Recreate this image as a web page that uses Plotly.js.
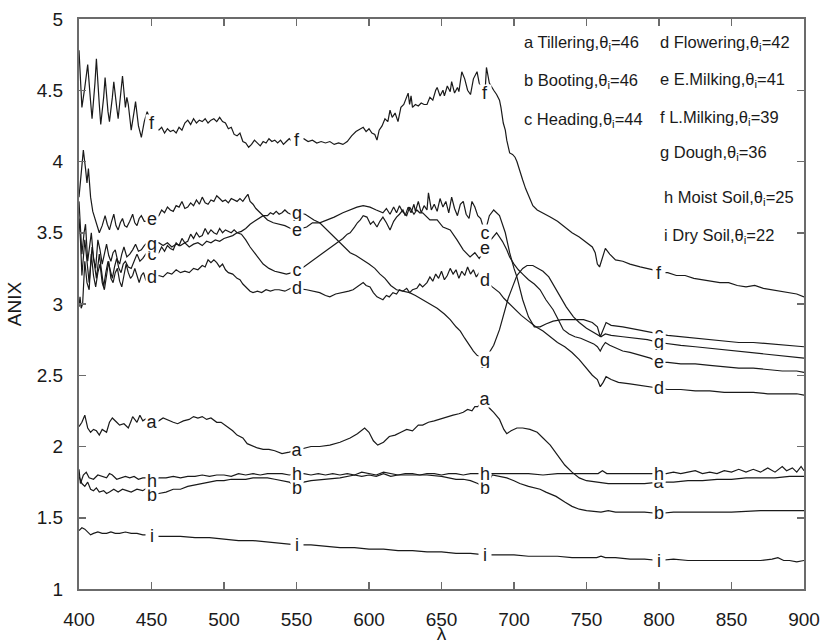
<!DOCTYPE html>
<html>
<head>
<meta charset="utf-8">
<script src="https://cdn.plot.ly/plotly-3.0.1.min.js"></script>
<style>
  html, body { margin: 0; padding: 0; background: #fff; }
  #chart { width: 821px; height: 644px; }
</style>
</head>
<body>
<div id="chart"></div>
<script>
// ANIX spectra of a crop through its growth stages and two soils.

// a – Tillering
const wl_a = [400,402,404,406,408,410,412,414,416,419,421,423,426,428,431,434,436,437,440,442,444,447,450,455,458,462,465,468,472,476,479,482,485,488,491,495,498,502,506,509,513,516,520,523,527,531,535,540,545,550,555,560,566,573,580,587,592,597,600,603,606,610,614,618,622,626,630,634,637,641,645,648,651,655,658,662,665,668,671,673,675,677,680,683,686,690,693,695,698,702,706,711,716,720,725,730,735,740,745,750,757,765,773,780,790,800,810,820,830,840,850,860,870,880,890,900];
const anix_a = [2.14,2.17,2.22,2.13,2.10,2.12,2.11,2.08,2.12,2.10,2.17,2.20,2.17,2.15,2.16,2.13,2.18,2.21,2.17,2.22,2.18,2.20,2.17,2.18,2.20,2.18,2.17,2.16,2.18,2.19,2.21,2.20,2.21,2.19,2.20,2.17,2.17,2.14,2.11,2.08,2.06,2.02,2.00,1.99,1.98,1.98,1.97,1.95,1.96,1.975,1.99,2.00,2.00,2.01,2.03,2.06,2.09,2.13,2.10,2.04,2.01,2.03,2.07,2.08,2.10,2.12,2.11,2.15,2.15,2.17,2.18,2.19,2.20,2.21,2.22,2.23,2.24,2.26,2.25,2.28,2.28,2.30,2.33,2.27,2.24,2.19,2.12,2.09,2.11,2.13,2.13,2.12,2.10,2.06,2.01,1.94,1.87,1.82,1.78,1.76,1.75,1.74,1.74,1.74,1.74,1.75,1.75,1.76,1.76,1.77,1.77,1.78,1.78,1.78,1.79,1.79];

// b – Booting
const wl_b = [400,402,404,406,408,410,412,414,417,419,421,424,427,430,433,436,440,444,447,450,455,460,465,470,475,480,485,490,495,500,505,510,515,520,525,530,535,540,545,550,555,560,570,580,590,595,600,605,610,615,620,630,640,650,655,660,665,670,675,680,685,690,695,700,704,710,718,722,729,735,740,745,750,760,765,770,780,790,800,810,830,850,870,890,900];
const anix_b = [1.79,1.74,1.72,1.75,1.70,1.69,1.71,1.68,1.69,1.67,1.68,1.70,1.68,1.70,1.69,1.68,1.70,1.69,1.71,1.66,1.67,1.68,1.70,1.70,1.72,1.73,1.74,1.75,1.76,1.76,1.77,1.77,1.77,1.78,1.78,1.78,1.77,1.76,1.75,1.71,1.75,1.76,1.77,1.78,1.80,1.79,1.80,1.79,1.81,1.79,1.80,1.80,1.80,1.79,1.78,1.77,1.77,1.76,1.74,1.71,1.80,1.79,1.78,1.76,1.74,1.72,1.70,1.68,1.65,1.61,1.58,1.56,1.55,1.54,1.55,1.54,1.54,1.54,1.53,1.54,1.54,1.54,1.55,1.55,1.55];

// c – Heading
const wl_c = [400,401,402,404,405.5,407,409,410.5,412,414,415.5,417,418.5,420,421.5,423,424.5,426,427.5,429,430.5,432,434,436,438,440,442,444,446,447,450,455,457,459,461,463,465,467,469,471,473,475,477,479,481,483,485,487,489,491,493,495,497,499,501,503,505,507,509,512,515,518,521,524,527,531,535,539,543,547,550,555,559,563,567,571,575,578,582,585,587,590,592,594,596,598.6,601,603,605.5,607.5,609.6,612,614.5,617,619,621,623.4,625,627,629,631,632,634,636,638,640,641,643,645,647,649,651,653,655,657,659,661,663,665,667,669,671,673,675,677,680,683,686,690,694,697,700,702,706,710,714,718,722,727,733,740,748,754,757.5,759.5,761.5,763.5,767,775,785,794,800,806,815,825,835,845,855,865,875,885,895,900];
const anix_c = [3.60,3.45,3.20,3.45,3.30,3.15,3.40,3.28,3.18,3.35,3.22,3.12,3.22,3.30,3.24,3.18,3.26,3.32,3.25,3.22,3.28,3.30,3.26,3.25,3.30,3.35,3.30,3.32,3.35,3.36,3.35,3.36,3.40,3.37,3.41,3.39,3.38,3.43,3.41,3.46,3.43,3.44,3.49,3.46,3.50,3.47,3.48,3.53,3.49,3.52,3.50,3.49,3.53,3.50,3.52,3.51,3.50,3.52,3.50,3.49,3.45,3.40,3.36,3.32,3.28,3.25,3.23,3.22,3.21,3.22,3.24,3.26,3.29,3.32,3.35,3.38,3.41,3.43,3.46,3.49,3.50,3.54,3.57,3.59,3.62,3.61,3.56,3.58,3.54,3.58,3.61,3.57,3.52,3.58,3.61,3.63,3.66,3.62,3.68,3.64,3.70,3.65,3.72,3.64,3.69,3.66,3.78,3.66,3.70,3.65,3.74,3.68,3.72,3.64,3.75,3.67,3.62,3.70,3.72,3.63,3.60,3.72,3.68,3.62,3.60,3.50,3.62,3.66,3.62,3.50,3.36,3.25,3.19,3.03,2.91,2.84,2.84,2.86,2.88,2.89,2.89,2.89,2.87,2.84,2.77,2.82,2.87,2.85,2.84,2.82,2.80,2.79,2.78,2.77,2.76,2.75,2.74,2.73,2.73,2.72,2.71,2.70,2.70];

// d – Flowering
const wl_d = [400,400.7,401.5,402.5,404,405.5,407,408.5,410,411.5,413,414.5,416,417.5,419,420.5,422,423.5,425,426.5,428,429.5,431,432.5,434,435.5,437,438.5,440,441.5,443,444.5,446,447,450,455,458,461,464,467,470,473,476,479,482,485,487,489,491,493,495,497,499,501,503,506,509,511,513,516,518,520,523,526,529,532,535,538,542,546,550,557,561,566,570,573,577,582,586,589,593,596,598,600.7,603,605.5,607.5,609.6,612,614,616.5,619,621,623.4,626,628,630,633,635,637,640,642,644,646,648,650,652,654,656,658,660,662,664,666,668,670,672,674,676,680,685,690,693,697,701,705,710,715,720,725,730,735,740,745,750,754,757.5,759.5,761.5,763.5,767,772,780,787,795,800,806,815,825,835,845,855,865,875,885,895,900];
const anix_d = [2.98,3.05,2.97,3.00,3.30,3.15,3.10,3.35,3.20,3.12,3.22,3.28,3.15,3.10,3.20,3.30,3.18,3.15,3.22,3.25,3.16,3.12,3.20,3.28,3.22,3.18,3.20,3.25,3.20,3.15,3.20,3.22,3.17,3.18,3.19,3.20,3.19,3.22,3.21,3.24,3.22,3.23,3.22,3.25,3.24,3.27,3.26,3.31,3.29,3.31,3.29,3.26,3.28,3.24,3.22,3.21,3.18,3.17,3.14,3.11,3.09,3.08,3.09,3.08,3.10,3.09,3.10,3.10,3.09,3.11,3.11,3.10,3.09,3.08,3.06,3.05,3.07,3.08,3.09,3.10,3.13,3.15,3.13,3.12,3.08,3.05,3.04,3.03,3.06,3.05,3.08,3.07,3.10,3.09,3.11,3.08,3.10,3.11,3.14,3.12,3.15,3.19,3.16,3.21,3.18,3.23,3.17,3.20,3.25,3.21,3.24,3.18,3.23,3.20,3.26,3.21,3.24,3.19,3.22,3.17,3.12,3.08,3.04,3.00,2.96,2.92,2.88,2.84,2.81,2.77,2.73,2.70,2.66,2.61,2.55,2.50,2.47,2.42,2.45,2.49,2.47,2.45,2.44,2.43,2.42,2.41,2.40,2.40,2.39,2.39,2.38,2.38,2.38,2.37,2.37,2.37,2.36];

// e – E.Milking
const wl_e = [400,401.5,403,404.5,405.5,406.5,408,409.5,411,412.5,414,416,418,419.5,421,422.5,424,425.5,427,428.5,430,431.5,433,435,437,438.5,440,441.5,443,445,447,450,455,457,459,461,463,465,467,469,471,473,475,477,479,481,483,485,487,489,491,493,495,497,499,501,503,505,507,509,511,513,515,516.5,518,520,522,524,527,530,534,538,542,546,550,557,561,566,571,576,582,587,591.7,596,600.7,605,609.6,612,614.5,617,619,621,623,626,628,631,633,635,637,642,647,651,656,660.7,665,669.7,673,676,680,684,688,692,695,697,700,703,706,710,714,718,722,727,731,734,738,742,746,750,755,757.5,759.5,761,763,766,770,775,780,787,794,800,806,815,825,835,845,855,865,875,885,895,900];
const anix_e = [3.75,3.90,4.08,3.95,3.85,3.95,3.75,3.65,3.60,3.55,3.50,3.55,3.62,3.56,3.52,3.58,3.63,3.55,3.52,3.57,3.60,3.55,3.54,3.58,3.63,3.57,3.55,3.60,3.62,3.58,3.58,3.60,3.62,3.66,3.64,3.68,3.66,3.65,3.69,3.68,3.72,3.67,3.68,3.71,3.69,3.73,3.70,3.75,3.71,3.70,3.73,3.72,3.76,3.74,3.72,3.73,3.71,3.74,3.73,3.72,3.74,3.72,3.75,3.77,3.72,3.70,3.67,3.65,3.62,3.59,3.57,3.56,3.55,3.53,3.52,3.54,3.57,3.57,3.59,3.61,3.64,3.66,3.68,3.69,3.68,3.66,3.64,3.67,3.63,3.68,3.64,3.69,3.65,3.62,3.68,3.63,3.66,3.64,3.64,3.59,3.59,3.54,3.52,3.45,3.38,3.33,3.36,3.32,3.39,3.45,3.50,3.44,3.38,3.33,3.28,3.24,3.21,3.17,3.14,3.10,3.03,2.96,2.88,2.82,2.79,2.77,2.76,2.74,2.72,2.70,2.67,2.70,2.73,2.71,2.69,2.67,2.66,2.64,2.62,2.59,2.59,2.58,2.58,2.57,2.56,2.55,2.55,2.54,2.53,2.53,2.52];

// f – L.Milking
const wl_f = [400,401,402,404,406,408,409,411,412,414,415,417,418,420,421,423,424,426,427,429,430,432,433,434,436,438,439,441,443,445,447,450,455,457,459,461,463,465,467,469,471,473,475,477,479,481,483,485,487,489,491,493,495,497,499,501,503,505,507,509,511,513,515,517,519,521,523,525,527,529,531,533,535,537,539,541,543,545,547,550,555,558,561,564,567,570,573,576,579,582,585,588,591,594,596,598,600,602,604,605.5,607,609,611,613,614.5,616,618,620,622,624,626,627,628,629,630,632,634,636,638,640,642,644,646,647,649,651,652,654,656,657,659,661,662,664,666,668,670,672,674.5,676,678,680,681,683,686,688,690,691,692.6,694,695,697,699,700.7,702,704,706,708,710,713,716,718,722,725,730,735,740,745,750,754,756,757.5,759,761,763,766,770,775,780,787,791,796,800,806,812,818,824,830,836,842,848,854,860,866,872,878,884,890,895,900];
const anix_f = [4.78,4.55,4.38,4.52,4.68,4.42,4.30,4.55,4.72,4.40,4.26,4.45,4.59,4.35,4.28,4.45,4.56,4.38,4.30,4.50,4.60,4.38,4.45,4.40,4.22,4.35,4.42,4.25,4.17,4.28,4.35,4.27,4.22,4.24,4.20,4.23,4.21,4.22,4.20,4.24,4.22,4.27,4.29,4.26,4.30,4.27,4.29,4.28,4.30,4.27,4.29,4.30,4.28,4.31,4.28,4.27,4.23,4.24,4.19,4.18,4.20,4.14,4.13,4.10,4.12,4.15,4.13,4.11,4.14,4.13,4.16,4.14,4.15,4.13,4.15,4.12,4.14,4.16,4.14,4.15,4.16,4.14,4.15,4.13,4.14,4.13,4.14,4.12,4.13,4.12,4.14,4.18,4.21,4.23,4.24,4.21,4.23,4.20,4.19,4.15,4.22,4.25,4.30,4.28,4.36,4.31,4.34,4.28,4.38,4.40,4.45,4.48,4.40,4.46,4.38,4.40,4.39,4.41,4.40,4.40,4.45,4.43,4.50,4.52,4.46,4.50,4.46,4.53,4.49,4.56,4.48,4.52,4.49,4.63,4.58,4.50,4.47,4.58,4.63,4.55,4.50,4.48,4.66,4.55,4.50,4.47,4.43,4.38,4.27,4.22,4.15,4.06,4.05,4.03,4.00,3.93,3.87,3.81,3.76,3.69,3.66,3.65,3.63,3.61,3.58,3.54,3.50,3.47,3.43,3.40,3.36,3.28,3.26,3.33,3.39,3.35,3.31,3.30,3.28,3.26,3.25,3.24,3.22,3.22,3.20,3.20,3.18,3.17,3.16,3.15,3.15,3.13,3.12,3.13,3.11,3.10,3.09,3.08,3.07,3.05];

// g – Dough
const wl_g = [400,401,402,403.5,404.5,406,407.5,408.5,410,411.5,413,414.5,416,417.5,419,420.5,422,423.5,425,426.5,428,429.5,431,433,435,437,439,441,443,445,447,450,455,458,461,464,467,470,473,476,479,482,485,488,491,494,497,500,503,506,509,512,515,518,521,524,527,530,532,534,536,538,540,542,544,546,550,556,559,562,566,570,574,578,582,587,591,596,600,604,607.6,611,615,619,623,628,632,637,642,647,652,656,660,663,666,669,672,674.5,677,680,683,686,690,693,696,699,702,706,709,713,717,720,724,728,732,736,741,745,750,755,758,760,763,767,775,785,792,800,806,815,825,835,845,855,865,875,885,895,900];
const anix_g = [3.72,3.50,3.35,3.50,3.56,3.30,3.40,3.50,3.32,3.25,3.45,3.38,3.28,3.35,3.42,3.34,3.30,3.36,3.38,3.31,3.28,3.35,3.40,3.33,3.35,3.38,3.42,3.37,3.38,3.41,3.43,3.42,3.43,3.41,3.43,3.40,3.42,3.41,3.43,3.40,3.42,3.43,3.41,3.44,3.43,3.45,3.44,3.46,3.47,3.48,3.50,3.51,3.53,3.56,3.58,3.60,3.62,3.62,3.64,3.63,3.65,3.63,3.64,3.66,3.64,3.63,3.64,3.63,3.61,3.59,3.57,3.53,3.49,3.45,3.41,3.36,3.34,3.31,3.28,3.25,3.21,3.18,3.13,3.10,3.09,3.08,3.06,3.03,3.00,2.97,2.93,2.89,2.84,2.81,2.76,2.71,2.67,2.64,2.63,2.61,2.66,2.71,2.82,2.93,3.04,3.12,3.20,3.25,3.27,3.27,3.25,3.23,3.19,3.12,3.05,2.98,2.91,2.87,2.83,2.80,2.78,2.77,2.79,2.78,2.77,2.76,2.75,2.73,2.72,2.71,2.70,2.69,2.68,2.67,2.66,2.65,2.64,2.63,2.62];

// h – Moist Soil
const wl_h = [400,401,403,405,407,410,413,416,419,421,423,426,429,432,435,438,441,444,447,450,455,460,465,470,475,480,485,490,495,500,505,510,515,520,525,530,535,540,545,550,555,560,565,570,575,580,585,590,595,600,605,610,615,620,625,630,635,640,645,650,655,660,665,670,675,680,685,690,700,710,720,730,740,750,758,761,764,770,780,790,800,805,810,815,820,825,830,835,840,845,850,855,860,865,870,875,880,885,888,892,895,898,900];
const anix_h = [1.84,1.74,1.80,1.82,1.78,1.77,1.80,1.79,1.78,1.81,1.80,1.77,1.78,1.79,1.78,1.79,1.77,1.78,1.78,1.76,1.78,1.78,1.79,1.78,1.79,1.79,1.80,1.79,1.80,1.80,1.79,1.81,1.80,1.81,1.80,1.81,1.81,1.81,1.80,1.81,1.81,1.80,1.81,1.80,1.81,1.80,1.81,1.80,1.82,1.81,1.80,1.82,1.81,1.80,1.81,1.81,1.80,1.81,1.81,1.80,1.81,1.81,1.80,1.81,1.81,1.81,1.81,1.81,1.81,1.81,1.80,1.81,1.81,1.81,1.81,1.83,1.81,1.81,1.81,1.81,1.81,1.81,1.82,1.81,1.82,1.83,1.81,1.82,1.81,1.83,1.82,1.84,1.82,1.84,1.82,1.85,1.82,1.86,1.83,1.85,1.82,1.86,1.83];

// i – Dry Soil
const wl_i = [400,402,404,406,408,410,413,416,419,422,425,428,432,436,440,444,447,450,455,460,470,480,490,500,510,520,530,540,550,560,570,580,590,600,610,620,630,640,650,660,670,680,690,700,710,720,730,740,750,757,760,763,770,780,790,800,810,820,830,840,850,860,870,878,882,886,890,895,900];
const anix_i = [1.41,1.43,1.42,1.40,1.38,1.39,1.40,1.39,1.39,1.40,1.39,1.39,1.40,1.39,1.39,1.38,1.38,1.37,1.37,1.37,1.37,1.36,1.36,1.35,1.34,1.34,1.33,1.32,1.31,1.31,1.30,1.29,1.29,1.28,1.28,1.27,1.27,1.26,1.26,1.25,1.25,1.24,1.24,1.24,1.23,1.23,1.23,1.22,1.22,1.22,1.23,1.22,1.22,1.21,1.21,1.20,1.21,1.20,1.20,1.20,1.20,1.20,1.20,1.21,1.22,1.20,1.20,1.19,1.20];

// Curve letters, the wavelengths where each letter sits on its curve, and the key text
const curveKeys = ['a','b','c','d','e','f','g','h','i'];
const labelWavelengths = [450, 550, 680, 800];
const stageNames = ['Tillering','Booting','Heading','Flowering','E.Milking','L.Milking','Dough','Moist Soil','Dry Soil'];
const incidenceAngles = [46, 46, 44, 42, 41, 39, 36, 25, 22];

const series = {
  a: [wl_a, anix_a], b: [wl_b, anix_b], c: [wl_c, anix_c],
  d: [wl_d, anix_d], e: [wl_e, anix_e], f: [wl_f, anix_f],
  g: [wl_g, anix_g], h: [wl_h, anix_h], i: [wl_i, anix_i]
};

function valueAt(xs, ys, x) {
  for (let k = 0; k < xs.length - 1; k++) {
    if (x >= xs[k] && x <= xs[k + 1]) {
      const t = (x - xs[k]) / (xs[k + 1] - xs[k]);
      return ys[k] + t * (ys[k + 1] - ys[k]);
    }
  }
  return ys[ys.length - 1];
}

const FONT = '"Liberation Sans", Arial, Helvetica, sans-serif';
const INK = '#1a1a1a';

const traces = curveKeys.map(k => ({
  type: 'scatter', mode: 'lines',
  x: series[k][0], y: series[k][1],
  line: { color: INK, width: 1.2 },
  hoverinfo: 'skip', showlegend: false
}));

// Letters laid on the curves; the white box opens a small gap in the line
const annotations = [];
curveKeys.forEach(k => {
  labelWavelengths.forEach(w => {
    annotations.push({
      x: w, y: valueAt(series[k][0], series[k][1], w),
      xref: 'x', yref: 'y', text: k, showarrow: false,
      bgcolor: '#ffffff', borderpad: 0, width: 12, height: 16,
      font: { family: FONT, size: 18, color: INK },
      xanchor: 'center', yanchor: 'middle'
    });
  });
});

// Key text, two columns in the upper right of the plot
const keyCols = [
  { x: 0.611, rows: [0, 1, 2], ys: [0.958, 0.891, 0.823] },
  { x: 0.799, rows: [3, 4, 5, 6], ys: [0.958, 0.893, 0.826, 0.765] },
  { x: 0.804, rows: [7, 8], ys: [0.686, 0.619] }
];
keyCols.forEach(col => {
  col.rows.forEach((r, j) => {
    annotations.push({
      xref: 'paper', yref: 'paper', x: col.x, y: col.ys[j],
      xanchor: 'left', yanchor: 'middle', showarrow: false,
      text: curveKeys[r] + ' ' + stageNames[r] + ',θ<sub>i</sub>=' + incidenceAngles[r],
      font: { family: FONT, size: 16.5, color: INK }
    });
  });
});

const axisCommon = {
  showgrid: false, zeroline: false,
  showline: true, linecolor: '#6b6b6b', linewidth: 2,
  ticks: 'inside', ticklen: 7, tickwidth: 1.5, tickcolor: '#6b6b6b',
  mirror: 'ticks',
  tickfont: { family: FONT, size: 19, color: INK }
};

const layout = {
  width: 821, height: 644,
  margin: { l: 79, r: 17, t: 19, b: 55 },
  paper_bgcolor: '#ffffff', plot_bgcolor: '#ffffff',
  font: { family: FONT, color: INK },
  showlegend: false,
  xaxis: Object.assign({}, axisCommon, {
    range: [400, 900], tick0: 400, dtick: 50,
    ticklabelstandoff: 12,
    title: { text: 'λ', font: { family: FONT, size: 19, color: INK }, standoff: 4 }
  }),
  yaxis: Object.assign({}, axisCommon, {
    range: [1, 5], tick0: 1, dtick: 0.5,
    ticklabelstandoff: 10,
    title: { text: 'ANIX', font: { family: FONT, size: 19, color: INK }, standoff: 10 }
  }),
  annotations: annotations
};

Plotly.newPlot('chart', traces, layout, { displayModeBar: false, staticPlot: true });
</script>
</body>
</html>
